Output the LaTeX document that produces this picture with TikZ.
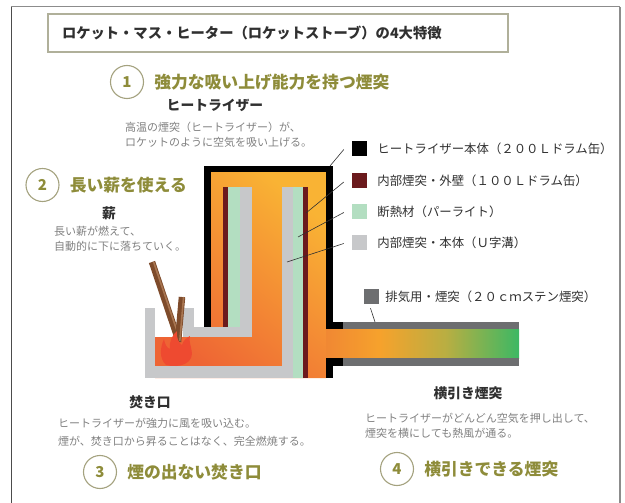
\documentclass[tikz,border=0pt]{standalone}
\usepackage{fontspec}
\setmainfont{Noto Sans CJK JP}
\usetikzlibrary{positioning}

\definecolor{olive}{HTML}{8E8C3A}
\definecolor{ringc}{HTML}{A4A27F}
\definecolor{notegray}{HTML}{808080}
\definecolor{ink}{HTML}{303030}
\definecolor{wallred}{HTML}{6B1A1D}
\definecolor{perlite}{HTML}{B3DEC1}
\definecolor{ugray}{HTML}{C7C8CA}
\definecolor{pipegray}{HTML}{6D6E70}
\definecolor{hot}{HTML}{F9B334}
\definecolor{midhot}{HTML}{F4922F}
\definecolor{warm}{HTML}{EE6434}
\definecolor{flame}{HTML}{EE4A30}
\definecolor{wood}{HTML}{7E4B2B}
\definecolor{woodlight}{HTML}{A87550}
\definecolor{pipeA}{HTML}{F08833}
\definecolor{pipeB}{HTML}{F6A22C}
\definecolor{pipeC}{HTML}{B9AE42}
\definecolor{pipeD}{HTML}{3CB864}
\definecolor{boxline}{HTML}{B0B09A}

% exhaust gas cooling down along the horizontal pipe
\pgfdeclarehorizontalshading{exhaust}{100bp}{color(0bp)=(pipeA); color(25bp)=(pipeA);
  color(39bp)=(pipeB); color(56bp)=(pipeC); color(75bp)=(pipeD); color(100bp)=(pipeD)}

\begin{document}
\begin{tikzpicture}[x=1pt,y=-1pt,
  heading/.style={font=\fontsize{16.8}{18}\selectfont\bfseries,text=olive,inner sep=0pt},
  badge/.style={circle,draw=ringc,line width=1.1pt,minimum size=33pt,inner sep=0pt,
    font=\fontsize{15}{16}\selectfont\bfseries,text=olive},
  part/.style={font=\fontsize{13.8}{15}\selectfont\bfseries,text=ink,inner sep=0pt},
  note/.style={font=\fontsize{11}{15}\selectfont,text=notegray,align=left,anchor=north west,inner sep=0pt},
  swatch/.style={minimum size=15pt,inner sep=0pt},
  key/.style={font=\fontsize{12.4}{14}\selectfont,text=ink,inner sep=0pt},
  leader/.style={draw=ink,line width=0.6pt},
  stick/.style={line width=6.5pt,draw=wood}]
  \useasboundingbox (0,0) rectangle (625,503);
  % page frame
  \draw[black!70,line width=0.8pt] (11,503) -- (11,7);
  \draw[black!45,line width=1pt] (11,7) -- (620,7);
  \draw[black!45,line width=1.6pt] (620,7) -- (620,503);
  \node[draw=boxline,line width=1.6pt,minimum height=38pt,text width=432pt,inner xsep=14pt,
    align=left,font=\fontsize{14.3}{16}\selectfont\bfseries,text=ink] (title) at (278,33)
    {ロケット・マス・ヒーター（ロケットストーブ）の4大特徴};

  % hot gas in the drum and the burn tunnel
  \shade[top color=hot,middle color=midhot,bottom color=warm,shading angle=-40]
    (155,337) -- (211,337) -- (211,172) -- (326,172) -- (326,378) -- (155,378) -- cycle;
  \shade[shading=exhaust] (326,329) rectangle (519,358);

  % 200L drum
  \fill (204,166) rectangle (333,172);
  \fill (204,166) rectangle (211,327);
  \fill (326,166) rectangle (333,329);
  \fill (326,322) rectangle (343,329);
  \fill (326,358) rectangle (343,366);
  \fill (326,358) rectangle (333,378);
  % exhaust pipe walls
  \fill[pipegray] (343,322) rectangle (519,329);
  \fill[pipegray] (343,358) rectangle (519,366);
  % U-channel: firebox, tunnel and riser core
  \fill[ugray] (145,308) rectangle (155,378);
  \fill[ugray] (145,366) rectangle (293,378);
  \fill[ugray] (183,308) rectangle (194,337);
  \fill[ugray] (183,327) rectangle (252,337);
  \fill[ugray] (240,187) rectangle (252,337);
  \fill[ugray] (282,187) rectangle (293,378);
  % perlite
  \fill[perlite] (228,187) rectangle (240,327);
  \fill[perlite] (293,187) rectangle (303,378);
  % 100L drum
  \fill[wallred] (223,187) rectangle (228,327);
  \fill[wallred] (303,187) rectangle (308,378);

  % firewood and fire
  \draw[stick] (152,262) -- (177,336);
  \draw[woodlight,line width=1.6pt] (153.6,262) -- (178.4,335);
  \draw[stick] (182,297) -- (178,342);
  \draw[woodlight,line width=1.6pt] (183.6,297) -- (179.8,341);
  \fill[flame] (166,365) .. controls (159,358) and (160,348) .. (164,339)
    .. controls (165,345) and (167,348) .. (170,349)
    .. controls (169,342) and (172,335) .. (177,331)
    .. controls (176,338) and (179,343) .. (182,345)
    .. controls (183,341) and (186,338) .. (190,336)
    .. controls (188,343) and (194,351) .. (191,358)
    .. controls (189,363) and (182,366) .. (176,366)
    .. controls (172,366) and (169,366) .. cycle;

  % legend
  \node[swatch,fill=black] (lgDrum) at (359.5,148.5) {};
  \node[key,right=10pt of lgDrum] (kDrum) {ヒートライザー本体（２００Ｌドラム缶）};
  \node[swatch,fill=wallred] (lgInner) at (359.5,181) {};
  \node[key,right=10pt of lgInner] (kInner) {内部煙突・外壁（１００Ｌドラム缶）};
  \node[swatch,fill=perlite] (lgPerlite) at (359.5,211.5) {};
  \node[key,right=10pt of lgPerlite] (kPerlite) {断熱材（パーライト）};
  \node[swatch,fill=ugray] (lgCore) at (359.5,242.5) {};
  \node[key,right=10pt of lgCore] (kCore) {内部煙突・本体（Ｕ字溝）};
  \node[swatch,fill=pipegray] (lgPipe) at (371.5,296.5) {};
  \node[key,right=6pt of lgPipe] (kPipe) {排気用・煙突（２０ｃｍステン煙突）};

  \coordinate (drumPt) at (330,166);
  \coordinate (innerPt) at (306,213);
  \coordinate (perlitePt) at (298,237);
  \coordinate (corePt) at (287,262);
  \coordinate (pipePt) at (375,322);
  \draw[leader] ([xshift=-8pt,yshift=-1pt]lgDrum.west) -- (drumPt);
  \draw[leader] ([xshift=-8pt,yshift=-1pt]lgInner.west) -- (innerPt);
  \draw[leader] ([xshift=-8pt,yshift=-1pt]lgPerlite.west) -- (perlitePt);
  \draw[leader] ([xshift=-8pt,yshift=-1pt]lgCore.west) -- (corePt);
  \draw[leader] ([xshift=-1pt,yshift=-4pt]lgPipe.south) -- (pipePt);

  % the four features
  \node[badge] (n1) at (127,82) {1};
  \node[heading,right=10pt of n1] (h1) {強力な吸い上げ能力を持つ煙突};
  \node[part] (riser) at (215,105) {ヒートライザー};
  \node[note] (t1) at (125,121.5) {高温の煙突（ヒートライザー）が、\\ロケットのように空気を吸い上げる。};

  \node[badge] (n2) at (42.5,185) {2};
  \node[heading,right=10pt of n2] (h2) {長い薪を使える};
  \node[part] (fuel) at (109,213) {薪};
  \node[note] (t2) at (54,225.5) {長い薪が燃えて、\\自動的に下に落ちていく。};

  \node[part] (feed) at (150,402) {焚き口};
  \node[note,font=\fontsize{11}{18}\selectfont] (t3) at (58,417.5) {ヒートライザーが強力に風を吸い込む。\\煙が、焚き口から昇ることはなく、完全燃焼する。};
  \node[badge] (n3) at (100,472) {3};
  \node[heading,right=10pt of n3] (h3) {煙の出ない焚き口};

  \node[part] (flue) at (468,393) {横引き煙突};
  \node[note] (t4) at (365,412.5) {ヒートライザーがどんどん空気を押し出して、\\煙突を横にしても熱風が通る。};
  \node[badge] (n4) at (397,469) {4};
  \node[heading,right=10pt of n4] (h4) {横引きできる煙突};
\end{tikzpicture}
\end{document}
